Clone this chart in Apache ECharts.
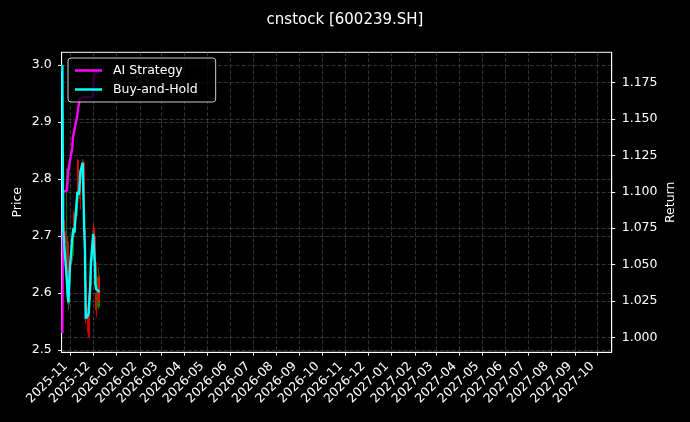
<!DOCTYPE html>
<html><head><meta charset="utf-8">
<script src="https://cdn.jsdelivr.net/npm/echarts@6/dist/echarts.min.js"></script>
<style>html,body{margin:0;padding:0;background:#000;}#c{width:690px;height:422px;}</style>
</head><body><div id="c"></div>
<script>
const dates = ['2025-10-21','2025-10-22','2025-10-23','2025-10-24','2025-10-27','2025-10-28','2025-10-29','2025-10-30','2025-10-31',
'2025-11-03','2025-11-04','2025-11-05','2025-11-06','2025-11-07',
'2025-11-10','2025-11-11','2025-11-12','2025-11-13','2025-11-14',
'2025-11-17','2025-11-18','2025-11-19','2025-11-20','2025-11-21',
'2025-11-24','2025-11-25','2025-11-26','2025-11-27','2025-11-28',
'2025-12-01','2025-12-02','2025-12-03','2025-12-04','2025-12-05',
'2025-12-08','2025-12-09'];
const opens  = [2.990,2.780,2.727,2.708,2.630,2.690,2.600,2.580,2.614, 2.690,2.665,2.740,2.714,2.707, 2.740,2.833,2.781,2.772,2.812, 2.790,2.828,2.772,2.711,2.620, 2.575,2.590,2.600,2.588,2.614, 2.660,2.715,2.700,2.654,2.600, 2.575,2.628];
const closes = [3.000,2.727,2.708,2.688,2.690,2.595,2.582,2.614,2.644, 2.660,2.707,2.714,2.707,2.725, 2.777,2.781,2.772,2.789,2.785, 2.828,2.772,2.711,2.675,2.556, 2.561,2.567,2.588,2.614,2.654, 2.703,2.700,2.654,2.614,2.570, 2.628,2.588];
const lows   = [2.975,2.720,2.700,2.680,2.625,2.588,2.570,2.572,2.605, 2.650,2.655,2.705,2.698,2.700, 2.735,2.768,2.760,2.765,2.746, 2.785,2.765,2.705,2.665,2.545, 2.530,2.523,2.520,2.580,2.605, 2.655,2.690,2.645,2.605,2.558, 2.570,2.582];
const highs  = [3.000,2.790,2.735,2.712,2.818,2.700,2.640,2.625,2.655, 2.700,2.715,2.745,2.725,2.735, 2.785,2.835,2.790,2.795,2.815, 2.835,2.832,2.775,2.715,2.625, 2.580,2.595,2.605,2.620,2.660, 2.710,2.722,2.705,2.660,2.610, 2.646,2.632];
const aiStrategy = [1.003,1.100,1.101,1.101,1.101,1.108,1.115,1.116,1.116, 1.130,1.137,1.140,1.140,1.140, 1.153,1.158,1.160,1.164,1.165, 1.165,1.165,1.165,1.165,1.165, 1.165,1.165,1.165,1.165,1.165, 1.166,1.182,1.182,1.182,1.182, 1.182,1.182];
const buyHold = [1.187,1.075,1.068,1.060,1.039,1.029,1.024,1.036,1.048, 1.067,1.072,1.075,1.072,1.079, 1.100,1.101,1.098,1.105,1.114, 1.120,1.098,1.074,1.060,1.013, 1.015,1.017,1.026,1.036,1.052, 1.071,1.070,1.052,1.036,1.033, 1.032,1.031];
const monthLabels = ['2025-11','2025-12','2026-01','2026-02','2026-03','2026-04','2026-05','2026-06','2026-07','2026-08','2026-09','2026-10','2026-11','2026-12','2027-01','2027-02','2027-03','2027-04','2027-05','2027-06','2027-07','2027-08','2027-09','2027-10'];
const priceTicks = [2.5,2.6,2.7,2.8,2.9,3.0];
const returnTicks = [1.000,1.025,1.050,1.075,1.100,1.125,1.150,1.175];
const axisStart = '2025-10-20', axisEnd = '2027-10-20';

function dayOf(s){const p=s.split('-').map(Number);const a=axisStart.split('-').map(Number);
  return (Date.UTC(p[0],p[1]-1,p[2]||1)-Date.UTC(a[0],a[1]-1,a[2]))/86400000;}
const xs = dates.map(dayOf);
const monthPos = monthLabels.map(m=>dayOf(m+'-01'));
const labelMap = {}; monthPos.forEach((v,i)=>labelMap[v]=monthLabels[i]);
const F = 'DejaVu Sans';
const chart = echarts.init(document.getElementById('c'));
const gridLine = {show:true,lineStyle:{color:'#555',width:0.6,type:[4,2]}};
chart.setOption({
  backgroundColor:'#000',
  animation:false,
  title:{text:'cnstock [600239.SH]',left:'center',top:8,textStyle:{color:'#fff',fontSize:15,fontWeight:'normal',fontFamily:F}},
  legend:{data:['AI Strategy','Buy-and-Hold'],orient:'vertical',left:68,top:58,
    backgroundColor:'rgba(0,0,0,0.8)',borderColor:'#cccccc',borderWidth:1,borderRadius:3,
    padding:[6,18,6,7],itemGap:6,itemWidth:27,itemHeight:2.5,icon:'rect',
    textStyle:{color:'#fff',fontSize:12.5,fontFamily:F,padding:[0,0,0,6]}},
  grid:{left:61.6,right:78.3,top:52.3,bottom:69.7,show:true,borderColor:'#fff',borderWidth:1,backgroundColor:'transparent'},
  xAxis:{type:'value',min:0,max:dayOf(axisEnd),
    axisLine:{lineStyle:{color:'#fff'}},
    axisTick:{show:true,length:3.5,lineStyle:{color:'#fff'},customValues:monthPos},
    axisLabel:{customValues:monthPos,rotate:45,margin:7,color:'#fff',fontSize:12.5,fontFamily:F,padding:[0,7,0,0],
      formatter:v=>labelMap[v]||''},
    splitLine:gridLine},
  yAxis:[
    {type:'value',min:2.4960,max:3.0223,position:'left',name:'Price',nameLocation:'middle',nameGap:37,nameRotate:90,nameMoveOverlap:false,
     nameTextStyle:{color:'#fff',fontSize:12.5,fontFamily:F},
     axisLine:{show:true,lineStyle:{color:'#fff'}},
     axisTick:{show:true,length:3.5,lineStyle:{color:'#fff'},customValues:priceTicks},
     axisLabel:{customValues:priceTicks,color:'#fff',fontSize:12.5,fontFamily:F,margin:10,formatter:v=>v.toFixed(1)},
     splitLine:gridLine},
    {type:'value',min:0.9897,max:1.1959,position:'right',name:'Return',nameLocation:'middle',nameGap:53,nameRotate:90,nameMoveOverlap:false,
     nameTextStyle:{color:'#fff',fontSize:12.5,fontFamily:F},
     axisLine:{show:true,lineStyle:{color:'#fff'}},
     axisTick:{show:true,length:3.5,lineStyle:{color:'#fff'},customValues:returnTicks},
     axisLabel:{customValues:returnTicks,color:'#fff',fontSize:12.5,fontFamily:F,margin:10,formatter:v=>v.toFixed(3)},
     splitLine:gridLine}
  ],
  series:[
    {type:'candlestick',yAxisIndex:0,barWidth:1.6,
     data:xs.map((x,i)=>[x,opens[i],closes[i],lows[i],highs[i]]),
     encode:{x:0,y:[1,2,3,4]},
     itemStyle:{color:'#008000',color0:'#ff0000',borderColor:'#008000',borderColor0:'#ff0000',borderWidth:0.8}},
    {type:'line',name:'AI Strategy',yAxisIndex:1,symbol:'none',data:xs.map((x,i)=>[x,aiStrategy[i]]),
     lineStyle:{color:'#ff00ff',width:2.4},itemStyle:{color:'#ff00ff'}},
    {type:'line',name:'Buy-and-Hold',yAxisIndex:1,symbol:'none',data:xs.map((x,i)=>[x,buyHold[i]]),
     lineStyle:{color:'#00ffff',width:2.4},itemStyle:{color:'#00ffff'}}
  ]
});
</script></body></html>
